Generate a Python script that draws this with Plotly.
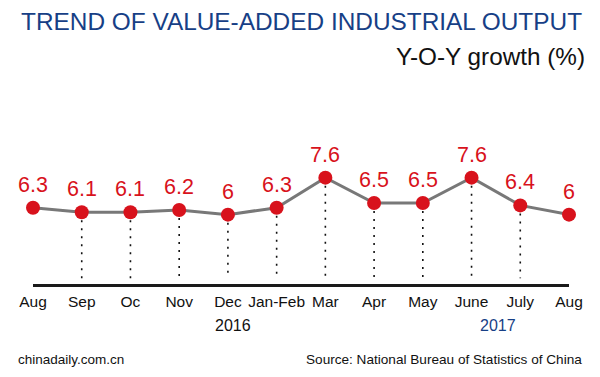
import plotly.graph_objects as go

months = ["Aug", "Sep", "Oc", "Nov", "Dec", "Jan-Feb", "Mar", "Apr", "May", "June", "July", "Aug"]
values = [6.3, 6.1, 6.1, 6.2, 6.0, 6.3, 7.6, 6.5, 6.5, 7.6, 6.4, 6.0]
value_labels = ["6.3", "6.1", "6.1", "6.2", "6", "6.3", "7.6", "6.5", "6.5", "7.6", "6.4", "6"]
years = ["2016", "2017"]
year_pos = [4.1, 9.55]
dotted_idx = list(range(1, 11))

W, H = 600, 377
FONT = "Liberation Sans, Arial, sans-serif"
RED = "#d8121c"
BLUE = "#173f86"
Y0 = 3.0

x = list(range(len(months)))

# dotted drop lines
dx, dy = [], []
for i in dotted_idx:
    dx += [x[i], x[i], None]
    dy += [values[i], Y0 + 0.25, None]

fig = go.Figure()
fig.add_trace(go.Scatter(x=dx, y=dy, mode="lines",
                         line=dict(color="#111111", width=1.6, dash="2px,6px"),
                         hoverinfo="skip", cliponaxis=False))
fig.add_trace(go.Scatter(x=x, y=values, mode="lines+markers",
                         line=dict(color="#787878", width=3),
                         marker=dict(color=RED, size=14),
                         cliponaxis=False))

ann = []
for xi, v, t in zip(x, values, value_labels):
    ann.append(dict(x=xi, y=v, xref="x", yref="y", text=t, showarrow=False,
                    yanchor="bottom", yshift=9,
                    font=dict(family=FONT, size=21.5, color=RED)))

def py(px):
    return 1 - px / H

ann.append(dict(x=584 / W, y=py(21.5), xref="paper", yref="paper",
                text="TREND OF VALUE-ADDED INDUSTRIAL OUTPUT", showarrow=False,
                xanchor="right", yanchor="middle",
                font=dict(family=FONT, size=24.4, color=BLUE)))
ann.append(dict(x=587 / W, y=py(57), xref="paper", yref="paper",
                text="Y-O-Y growth (%)", showarrow=False,
                xanchor="right", yanchor="middle",
                font=dict(family=FONT, size=24.3, color="#111111")))
ann.append(dict(x=16 / W, y=py(359), xref="paper", yref="paper",
                text="chinadaily.com.cn", showarrow=False,
                xanchor="left", yanchor="middle",
                font=dict(family=FONT, size=13.5, color="#111111")))
ann.append(dict(x=584 / W, y=py(359), xref="paper", yref="paper",
                text="Source: National Bureau of Statistics of China", showarrow=False,
                xanchor="right", yanchor="middle",
                font=dict(family=FONT, size=13.6, color="#111111")))
for yr, pos, col in zip(years, year_pos, ["#111111", BLUE]):
    ann.append(dict(x=pos, y=py(325), xref="x", yref="paper", text=yr,
                    showarrow=False, xanchor="center", yanchor="middle",
                    font=dict(family=FONT, size=16, color=col)))

fig.update_layout(
    width=W, height=H,
    margin=dict(l=0, r=0, t=0, b=0),
    paper_bgcolor="white", plot_bgcolor="white",
    showlegend=False,
    annotations=ann,
    xaxis=dict(domain=[33 / W, 569 / W], range=[0, 11],
               tickmode="array", tickvals=x, ticktext=months,
               showgrid=False, zeroline=False,
               showline=True, linecolor="#1a1a1a", linewidth=3,
               ticks="outside", ticklen=1, tickcolor="rgba(0,0,0,0)",
               tickfont=dict(family=FONT, size=15.5, color="#111111"),
               automargin=False, fixedrange=True),
    yaxis=dict(domain=[py(284), py(99)], range=[Y0, 11],
               visible=False, showgrid=False, zeroline=False,
               automargin=False, fixedrange=True),
)

fig.write_html("out.html", config={"displayModeBar": False},
               post_script="document.body.style.margin='0';")
